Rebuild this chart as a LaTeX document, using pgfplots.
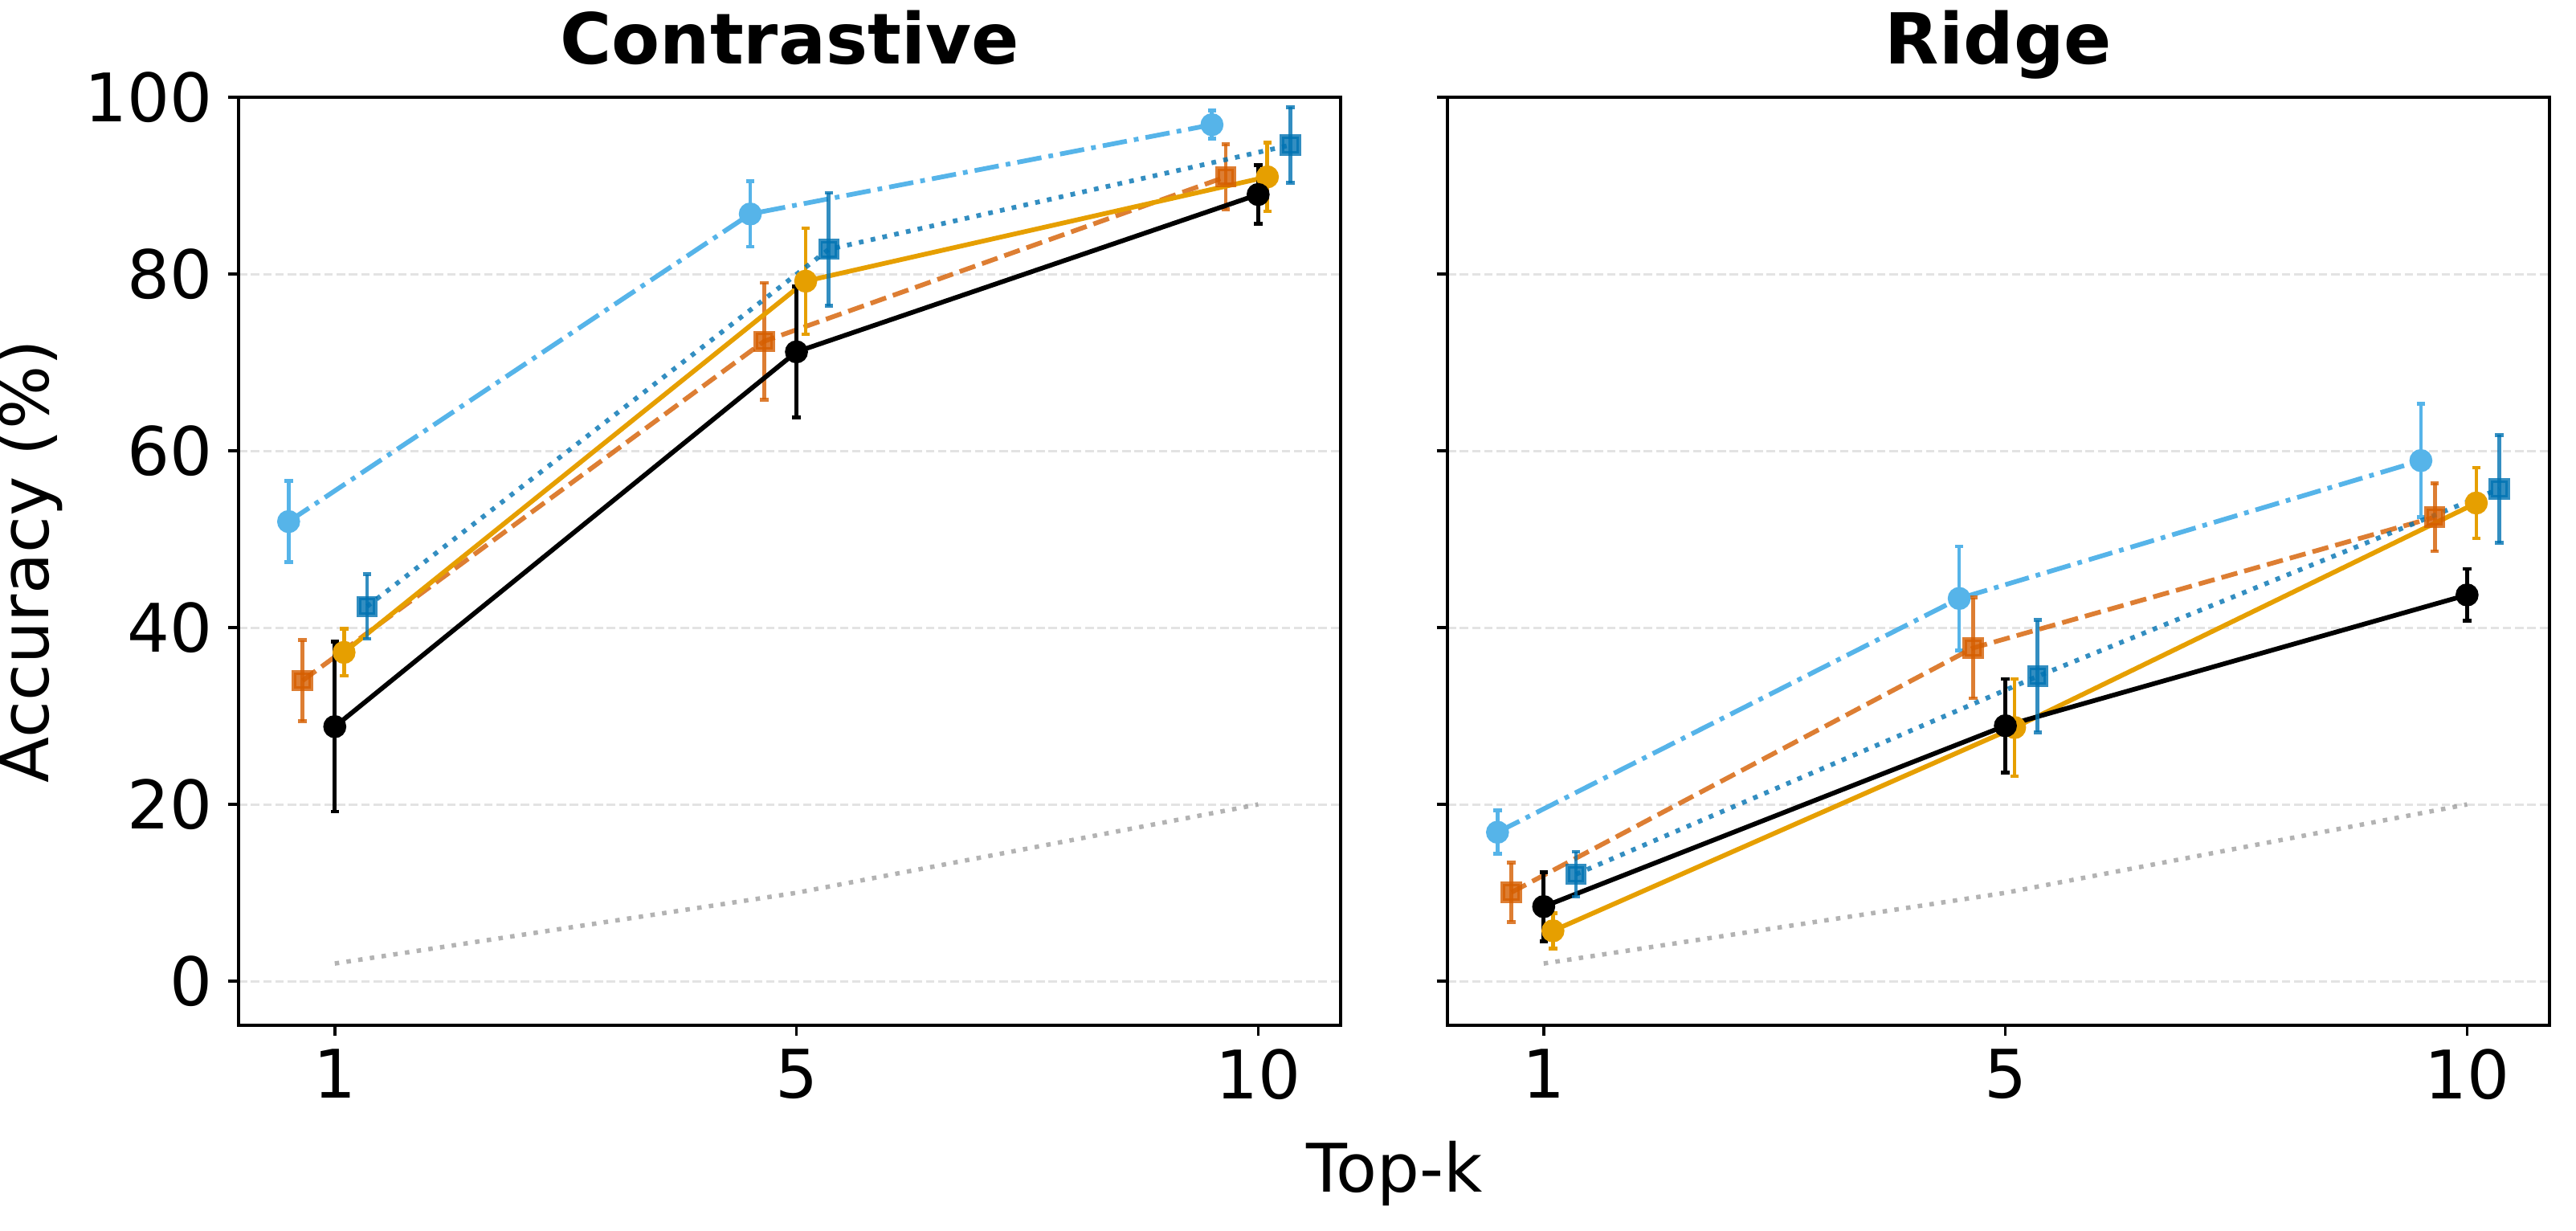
\documentclass[border=0pt]{standalone}
\usepackage{pgfplots}
\pgfplotsset{compat=1.18}
\usepackage{pgfplotstable}
\usepackage{fontspec}
\setmainfont{DejaVu Sans}
\newcommand\fs{\fontsize{30}{36}\selectfont}
\newcommand\fst{\fontsize{31.5}{38}\selectfont}
\definecolor{lb}{HTML}{56B4E9}
\definecolor{orr}{HTML}{D55E00}
\definecolor{gd}{HTML}{E69F00}
\definecolor{bl}{HTML}{0072B2}
\definecolor{gridc}{HTML}{E3E3E3}

% Contrastive
\pgfplotstableread{
x y e
-0.1 52.0 4.6
0.9 86.8 3.7
1.9 96.9 1.6
}\cLB
\pgfplotstableread{
x y e
-0.07 34.0 4.6
0.93 72.4 6.6
1.93 91.0 3.7
}\cOR
\pgfplotstableread{
x y e
0 28.8 9.6
1 71.2 7.4
2 89.0 3.3
}\cBK
\pgfplotstableread{
x y e
0.02 37.2 2.65
1.02 79.2 6.0
2.02 91.0 3.9
}\cGD
\pgfplotstableread{
x y e
0.07 42.4 3.65
1.07 82.8 6.4
2.07 94.6 4.3
}\cBL
% Ridge
\pgfplotstableread{
x y e
-0.1 16.85 2.45
0.9 43.3 5.9
1.9 58.9 6.4
}\rLB
\pgfplotstableread{
x y e
-0.07 10.05 3.35
0.93 37.7 5.7
1.93 52.5 3.85
}\rOR
\pgfplotstableread{
x y e
0 8.44 3.9
1 28.9 5.3
2 43.7 2.95
}\rBK
\pgfplotstableread{
x y e
0.02 5.7 2.0
1.02 28.7 5.5
2.02 54.1 4.0
}\rGD
\pgfplotstableread{
x y e
0.07 12.1 2.55
1.07 34.5 6.35
2.07 55.7 6.1
}\rBL
\pgfplotstableread{
x y
0 2
1 10
2 20
}\chance

\pgfplotsset{
  panel/.style={
    anchor=south west, scale only axis,
    width=493.9pt, height=415.8pt,
    xmin=-0.2085, xmax=2.1785, ymin=-5, ymax=100,
    xtick={0,1,2}, xticklabels={1,5,10},
    ytick={0,20,40,60,80,100},
    tick pos=left, tick align=outside,
    major tick length=4.8pt,
    every tick/.style={black, line width=1.3pt},
    axis line style={line width=1.3pt},
    tick label style={font=\fs, inner sep=0pt},
    /pgf/number format/assume math mode=true,
    xticklabel style={anchor=north, yshift=-5.7pt},
    yticklabel style={anchor=east, xshift=-6.7pt},
    ymajorgrids,
    major grid style={gridc, line width=1.1pt, dash pattern=on 3.8pt off 1.7pt},
    title style={font=\fst\bfseries, at={(0.5,1)}, anchor=base, yshift=9pt},
  },
  ebar/.style={error bars/.cd, y dir=both, y explicit,
    error bar style={line width=1.7pt, solid},
    error mark options={rotate=90, line width=1.7pt, mark size=1.9pt, solid}},
  sLB/.style={color=lb, line width=2.1pt, dash pattern=on 11pt off 3.2pt on 2.1pt off 3.2pt, mark=*, mark size=4.1pt, mark options={solid}, ebar},
  sOR/.style={color=orr, opacity=0.8, line width=2.1pt, dash pattern=on 7.4pt off 3.2pt, mark=square*, mark size=3.7pt, mark options={solid}, ebar},
  sGD/.style={color=gd, line width=2.1pt, solid, mark=*, mark size=4.1pt, mark options={solid}, ebar},
  sBK/.style={color=black, line width=2.1pt, solid, mark=*, mark size=4.1pt, mark options={solid}, ebar},
  sBL/.style={color=bl, opacity=0.8, line width=2.1pt, dash pattern=on 2.1pt off 3.3pt, mark=square*, mark size=3.7pt, mark options={solid}, ebar},
  sCH/.style={color=gray, opacity=0.6, line width=2pt, dash pattern=on 2pt off 3.3pt, no marks},
}

\begin{document}
\begin{tikzpicture}
\useasboundingbox (0,0) rectangle (1154.5pt,551.2pt);
\begin{axis}[panel, at={(106.9pt,91.8pt)}, title={Contrastive},
  ylabel={Accuracy (\%)},
  ylabel style={font=\fs, at={(axis description cs:-0.1887,0.5)}, anchor=center}]
\addplot[sCH] table[x=x,y=y] {\chance};
\addplot[sLB] table[x=x,y=y,y error=e] {\cLB};
\addplot[sOR] table[x=x,y=y,y error=e] {\cOR};
\addplot[sGD] table[x=x,y=y,y error=e] {\cGD};
\addplot[sBK] table[x=x,y=y,y error=e] {\cBK};
\addplot[sBL] table[x=x,y=y,y error=e] {\cBL};
\end{axis}
\begin{axis}[panel, at={(648.7pt,91.8pt)}, title={Ridge}, yticklabels={}]
\addplot[sCH] table[x=x,y=y] {\chance};
\addplot[sLB] table[x=x,y=y,y error=e] {\rLB};
\addplot[sOR] table[x=x,y=y,y error=e] {\rOR};
\addplot[sGD] table[x=x,y=y,y error=e] {\rGD};
\addplot[sBK] table[x=x,y=y,y error=e] {\rBK};
\addplot[sBL] table[x=x,y=y,y error=e] {\rBL};
\end{axis}
\node[font=\fs, anchor=base] at (625pt,17pt) {Top-k};
\end{tikzpicture}
\end{document}
